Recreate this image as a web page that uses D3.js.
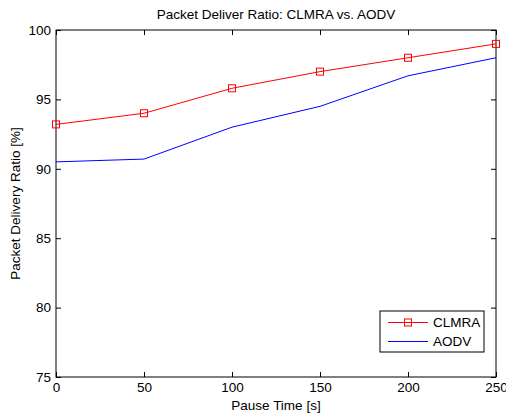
<!DOCTYPE html>
<html>
<head>
<meta charset="utf-8">
<script src="https://cdn.jsdelivr.net/npm/d3@7"></script>
<style>
  body { margin: 0; background: #fff; }
  svg { font-family: "Liberation Sans", Arial, sans-serif; }
  text { fill: #000; }
</style>
</head>
<body>
<div id="chart"></div>
<script>
// data
var pauseTimes = [0, 50, 100, 150, 200, 250];
var clmra = [93.2, 94.0, 95.8, 97.0, 98.0, 99.0];
var aodv = [90.5, 90.7, 93.0, 94.5, 96.7, 98.0];
var xTicks = [0, 50, 100, 150, 200, 250];
var yTicks = [75, 80, 85, 90, 95, 100];
var seriesNames = ["CLMRA", "AODV"];

var width = 506, height = 415;
var margin = {top: 30, right: 10, bottom: 38, left: 56};
var w = 496 - margin.left, h = 377 - margin.top;
var fs = "13.5px";

var svg = d3.select("#chart").append("svg")
    .attr("width", width)
    .attr("height", height);

var g = svg.append("g")
    .attr("transform", "translate(" + margin.left + "," + margin.top + ")");

var x = d3.scaleLinear().domain([0, 250]).range([0, w]);
var y = d3.scaleLinear().domain([75, 100]).range([h, 0]);

// ticks point inward like matlab
var tick = 5;
function styleAxis(sel) {
    sel.select(".domain").remove();
    sel.selectAll("line").attr("stroke", "#000");
    sel.selectAll("text").style("font-size", fs);
}

// bottom axis
g.append("g")
    .attr("transform", "translate(0," + h + ")")
    .call(d3.axisBottom(x).tickValues(xTicks).tickSizeInner(-tick).tickSizeOuter(0))
    .call(styleAxis)
    .selectAll("text").attr("dy", "0.95em").attr("y", 2);

// top axis, no labels
g.append("g")
    .call(d3.axisTop(x).tickValues(xTicks).tickSizeInner(-tick).tickSizeOuter(0).tickFormat(""))
    .call(styleAxis);

// left axis
g.append("g")
    .call(d3.axisLeft(y).tickValues(yTicks).tickSizeInner(-tick).tickSizeOuter(0).tickPadding(5))
    .call(styleAxis);

// right axis, no labels
g.append("g")
    .attr("transform", "translate(" + w + ",0)")
    .call(d3.axisRight(y).tickValues(yTicks).tickSizeInner(-tick).tickSizeOuter(0).tickFormat(""))
    .call(styleAxis);

// box
g.append("rect")
    .attr("width", w)
    .attr("height", h)
    .attr("fill", "none")
    .attr("stroke", "#000")
    .attr("stroke-width", 1);

var line = d3.line()
    .x(function (d, i) { return x(pauseTimes[i]); })
    .y(function (d) { return y(d); });

g.append("path")
    .datum(aodv)
    .attr("d", line)
    .attr("fill", "none")
    .attr("stroke", "#0000ff")
    .attr("stroke-width", 1);

g.append("path")
    .datum(clmra)
    .attr("d", line)
    .attr("fill", "none")
    .attr("stroke", "#ff0000")
    .attr("stroke-width", 1);

// square markers
g.selectAll(".mk")
    .data(clmra).enter()
    .append("rect")
    .attr("class", "mk")
    .attr("x", function (d, i) { return x(pauseTimes[i]) - 3.5; })
    .attr("y", function (d) { return y(d) - 3.5; })
    .attr("width", 7)
    .attr("height", 7)
    .attr("fill", "none")
    .attr("stroke", "#ff0000");

// title and labels
svg.append("text")
    .attr("x", margin.left + w / 2)
    .attr("y", 19)
    .attr("text-anchor", "middle")
    .style("font-size", fs)
    .text("Packet Deliver Ratio: CLMRA vs. AODV");

svg.append("text")
    .attr("x", margin.left + w / 2)
    .attr("y", 410)
    .attr("text-anchor", "middle")
    .style("font-size", fs)
    .text("Pause Time [s]");

svg.append("text")
    .attr("transform", "translate(20," + (margin.top + h / 2) + ") rotate(-90)")
    .attr("text-anchor", "middle")
    .style("font-size", fs)
    .text("Packet Delivery Ratio [%]");

// legend
var leg = svg.append("g").attr("transform", "translate(380,311)");
leg.append("rect")
    .attr("width", 104)
    .attr("height", 41)
    .attr("fill", "#fff")
    .attr("stroke", "#000");

var legColors = ["#ff0000", "#0000ff"];
seriesNames.forEach(function (name, i) {
    var ly = 11.5 + i * 19;
    leg.append("line")
        .attr("x1", 8).attr("x2", 48)
        .attr("y1", ly).attr("y2", ly)
        .attr("stroke", legColors[i]);
    if (i === 0) {
        leg.append("rect")
            .attr("x", 28 - 3.5).attr("y", ly - 3.5)
            .attr("width", 7).attr("height", 7)
            .attr("fill", "none")
            .attr("stroke", legColors[i]);
    }
    leg.append("text")
        .attr("x", 53)
        .attr("y", ly)
        .attr("dy", "0.35em")
        .style("font-size", fs)
        .text(name);
});
</script>
</body>
</html>
